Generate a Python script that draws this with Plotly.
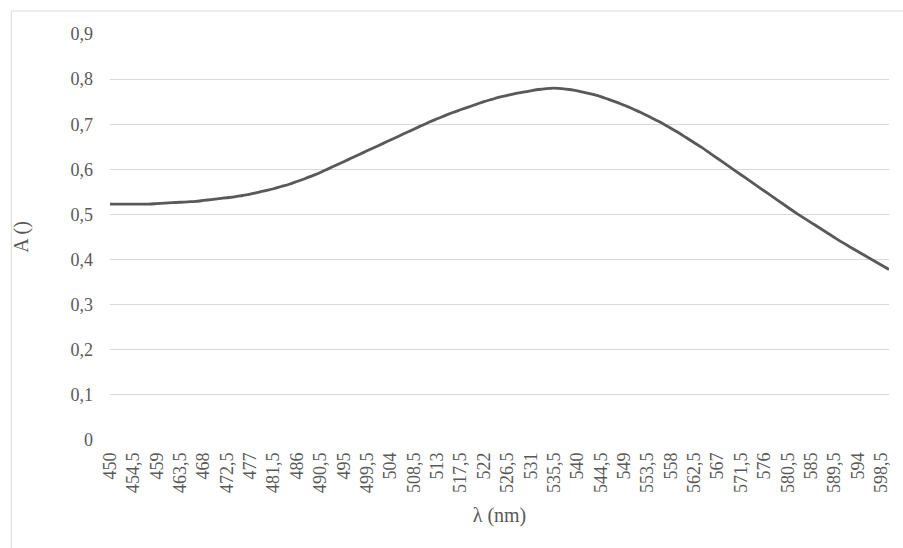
import plotly.graph_objects as go

wavelength = [450 + 1.5 * i for i in range(101)]
absorbance = [
    0.523, 0.523, 0.523, 0.523, 0.523, 0.523, 0.524, 0.525, 0.526, 0.527,   # 450-463.5
    0.528, 0.529, 0.531, 0.533, 0.535, 0.537, 0.539, 0.542, 0.545, 0.549,   # 465-478.5
    0.553, 0.557, 0.562, 0.567, 0.573, 0.579, 0.586, 0.593, 0.601, 0.609,   # 480-493.5
    0.617, 0.625, 0.633, 0.641, 0.649, 0.657, 0.665, 0.673, 0.681, 0.689,   # 495-508.5
    0.697, 0.705, 0.712, 0.719, 0.726, 0.732, 0.738, 0.744, 0.750, 0.755,   # 510-523.5
    0.760, 0.764, 0.768, 0.771, 0.774, 0.777, 0.779, 0.780, 0.779, 0.777,   # 525-538.5
    0.774, 0.770, 0.766, 0.761, 0.755, 0.749, 0.742, 0.735, 0.727, 0.719,   # 540-553.5
    0.710, 0.701, 0.691, 0.681, 0.670, 0.659, 0.648, 0.636, 0.624, 0.612,   # 555-568.5
    0.600, 0.588, 0.576, 0.564, 0.552, 0.540, 0.528, 0.516, 0.504, 0.493,   # 570-583.5
    0.482, 0.471, 0.460, 0.449, 0.438, 0.428, 0.418, 0.408, 0.398, 0.388,   # 585-598.5
    0.378,                                                                  # 600
]
assert len(wavelength) == len(absorbance)

x_tick_vals = [450 + 4.5 * k for k in range(34)]
x_tick_text = ["450", "454,5", "459", "463,5", "468", "472,5", "477", "481,5",
               "486", "490,5", "495", "499,5", "504", "508,5", "513", "517,5",
               "522", "526,5", "531", "535,5", "540", "544,5", "549", "553,5",
               "558", "562,5", "567", "571,5", "576", "580,5", "585", "589,5",
               "594", "598,5"]
y_tick_vals = [0, 0.1, 0.2, 0.3, 0.4, 0.5, 0.6, 0.7, 0.8, 0.9]
y_tick_text = ["0", "0,1", "0,2", "0,3", "0,4", "0,5", "0,6", "0,7", "0,8", "0,9"]

FONT = "Liberation Serif"
GREY = "#595959"

fig = go.Figure()
fig.add_trace(go.Scatter(
    x=wavelength, y=absorbance, mode="lines",
    line=dict(color=GREY, width=2.8, shape="spline", smoothing=0.8),
    showlegend=False,
))

W, H = 903, 548
L, R, T, B = 110, 12, 34, 108
pw, ph = W - L - R, H - T - B

fig.update_layout(
    width=W, height=H,
    margin=dict(l=L, r=R, t=T, b=B, pad=0),
    paper_bgcolor="white", plot_bgcolor="white",
    font=dict(family=FONT, color=GREY, size=18),
    xaxis=dict(
        range=[450, 600], tickmode="array", tickvals=x_tick_vals, ticktext=x_tick_text,
        tickangle=-90, showgrid=False, zeroline=False, showline=False, ticks="",
        ticklabelstandoff=8, tickfont=dict(size=18, family=FONT, color=GREY),
        title=dict(text="λ (nm)", font=dict(size=20, family=FONT, color=GREY), standoff=15),
    ),
    yaxis=dict(
        range=[0, 0.9], tickmode="array", tickvals=y_tick_vals, ticktext=y_tick_text,
        showgrid=True, gridcolor="#d9d9d9", gridwidth=1, zeroline=False, showline=False,
        ticks="", ticklabelstandoff=16, tickfont=dict(size=18, family=FONT, color=GREY),
        title=dict(text="A ()", font=dict(size=20, family=FONT, color=GREY), standoff=36),
    ),
    shapes=[dict(
        type="rect", xref="paper", yref="paper",
        x0=(11 - L) / pw, x1=(W + 10 - L) / pw,
        y0=-(H + 10 - (H - B)) / ph, y1=1 + (T - 11) / ph,
        line=dict(color="#d9d9d9", width=1), fillcolor="rgba(0,0,0,0)", layer="below",
    )],
)

fig.write_html("out.html")
